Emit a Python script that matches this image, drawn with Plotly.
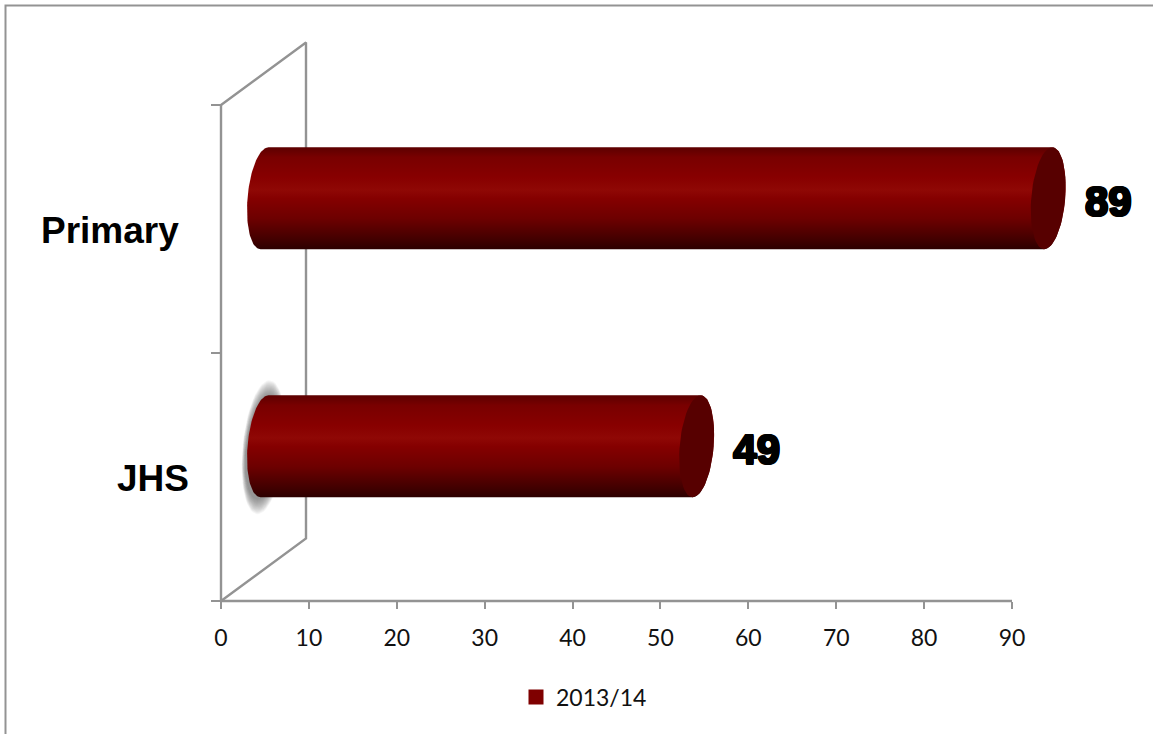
import numpy as np
import plotly.graph_objects as go

categories = ["JHS", "Primary"]
values = [49, 89]
series_name = "2013/14"
x_ticks = [0, 10, 20, 30, 40, 50, 60, 70, 80, 90]

W, H = 1153, 734
L, R, T, B = 221, 1012, 105, 601
PX_X = (R - L) / 90.0
PX_Y = (B - T) / 2.0
DEPTH_X = 85 / PX_X
DEPTH_Y = 62.5 / PX_Y
RX = 17 / PX_X
RY = 51 / PX_Y
SHEAR = 4 / PX_X
GREY = "#939393"
RAMP = [[0.0, "#2c0000"], [0.08, "#3f0000"], [0.3, "#6d0000"], [0.5, "#850000"],
        [0.58, "#8f0805"], [0.7, "#880000"], [0.9, "#790000"], [1.0, "#5c0000"]]


def ell(cx, cy, t0, t1, rx=RX, ry=RY, sh=SHEAR, n=60):
    t = np.radians(np.linspace(t0, t1, n))
    return cx + rx * np.cos(t) + sh * np.sin(t), cy + ry * np.sin(t)


fig = go.Figure()

# axis lines and walls of the 3-D plot
wx = [0, 90, None, 0, DEPTH_X, DEPTH_X, 0, None, 0, 0]
wy = [-0.5, -0.5, None, 1.5, 1.5 + DEPTH_Y, -0.5 + DEPTH_Y, -0.5, None, 1.5, -0.5]
fig.add_trace(go.Scatter(x=wx, y=wy, mode="lines", line=dict(color=GREY, width=2.4),
                         showlegend=False, hoverinfo="skip"))

# soft shadow behind the JHS bar
N = 16
for k in range(N):
    f = 1 - k / float(N)
    sx, sy = ell(DEPTH_X / 2, DEPTH_Y / 2 - 0.006, 0, 360,
                 rx=RX + 4 / PX_X * f, ry=RY + 16 / PX_Y * f, sh=SHEAR * 1.5)
    fig.add_trace(go.Scatter(x=sx, y=sy, mode="lines", line=dict(width=0), fill="toself",
                             fillcolor="rgba(70,70,70,0.05)",
                             showlegend=False, hoverinfo="skip"))

for i, (c, v) in enumerate(zip(categories, values)):
    cy = i + DEPTH_Y / 2 - 0.5 / PX_Y
    c0 = DEPTH_X / 2 + 1 / PX_X
    c1 = v + DEPTH_X / 2 + 2.5 / PX_X
    ax, ay = ell(c0, cy, 90, 270)
    bx, by = ell(c1, cy, 270, 450)
    fig.add_trace(go.Scatter(x=np.r_[ax, bx, ax[0]], y=np.r_[ay, by, ay[0]], mode="lines",
                             line=dict(width=0), fill="toself",
                             fillgradient=dict(type="vertical", colorscale=RAMP),
                             showlegend=False, hoverinfo="skip"))
    ex, ey = ell(c1, cy, 0, 360)
    fig.add_trace(go.Scatter(x=ex, y=ey, mode="lines", line=dict(width=0), fill="toself",
                             fillcolor="#570000", showlegend=False, hoverinfo="skip"))

# value labels
fig.add_trace(go.Scatter(
    x=[v + 11.95 for v in values], y=[i + DEPTH_Y / 2 - 0.032 for i in range(len(values))],
    mode="text", text=[str(v) for v in values], showlegend=False, hoverinfo="skip",
    textfont=dict(family="Liberation Sans", size=42, weight="bold", color="#000000",
                  shadow="1px 0 0 #000, -1px 0 0 #000, 0 1px 0 #000, 0 -1px 0 #000, "
                         "1px 1px 0 #000, -1px 1px 0 #000, 1px -1px 0 #000, -1px -1px 0 #000"),
))

# legend entry
fig.add_trace(go.Scatter(x=[None], y=[None], mode="markers", name=series_name,
                         marker=dict(symbol="square", size=15, color="#7f0000")))

annots = [dict(x=-40 / PX_X if c == "Primary" else -30.5 / PX_X, y=i - 0.008, text=c,
               xref="x", yref="y", xanchor="right", yanchor="middle", showarrow=False,
               font=dict(family="Liberation Sans", size=37, weight="bold", color="#000000"))
          for i, c in enumerate(categories)]

border = dict(type="path", xref="paper", yref="paper",
              path=f"M {5.5 / W},0 L {5.5 / W},{1 - 5.5 / H} L 1,{1 - 5.5 / H}",
              line=dict(color=GREY, width=2))

fig.update_layout(
    width=W, height=H, margin=dict(l=0, r=0, t=0, b=0, pad=0),
    paper_bgcolor="white", plot_bgcolor="white",
    showlegend=True,
    legend=dict(x=516 / W, y=1 - 697 / H, xanchor="left", yanchor="middle", orientation="h",
                bgcolor="rgba(0,0,0,0)",
                font=dict(family="Lato", size=23, color="#111111")),
    xaxis=dict(range=[-L / PX_X, (W - L) / PX_X], tickvals=x_ticks, ticks="outside",
               ticklen=7, tickwidth=2, tickcolor=GREY, showline=False, showgrid=False,
               zeroline=False, anchor="free", position=(H - B) / H, ticklabelstandoff=9,
               tickfont=dict(family="Lato", size=23, color="#111111")),
    yaxis=dict(range=[-0.5 - (H - B) / PX_Y, 1.5 + T / PX_Y], tickvals=[-0.5, 0.5, 1.5],
               ticktext=["", "", ""], ticks="outside", ticklen=10, tickwidth=2,
               tickcolor=GREY, showline=False, showgrid=False, zeroline=False,
               anchor="free", position=L / W),
    annotations=annots,
    shapes=[border],
)
fig.write_html("out.html", config=dict(displayModeBar=False),
               post_script="document.body.style.margin='0';document.body.style.overflow='hidden';")
